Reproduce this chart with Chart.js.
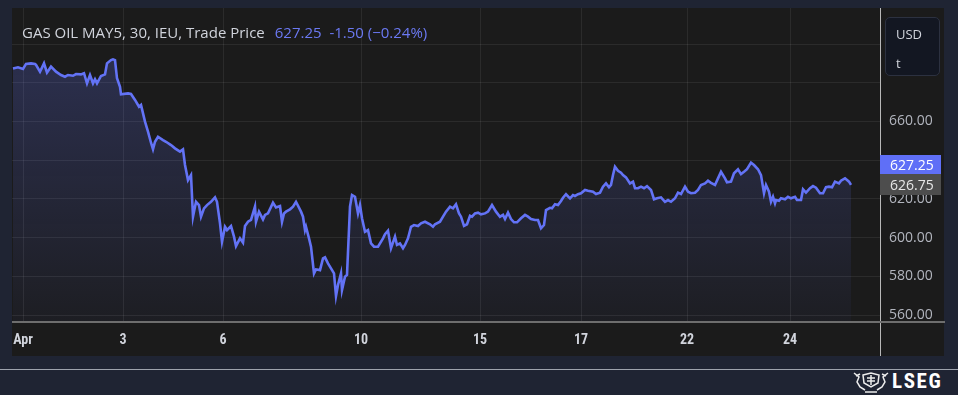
<!DOCTYPE html>
<html>
<head>
<meta charset="utf-8">
<script src="https://cdn.jsdelivr.net/npm/chart.js@4/dist/chart.umd.min.js"></script>
<style>
  html, body { margin:0; padding:0; }
  body { width:958px; height:395px; overflow:hidden; position:relative; background:#1f2433; font-family: 'Open Sans', Roboto, sans-serif; }
  #pane { position:absolute; left:12px; top:8px; width:932px; height:348px; background:#1b1b1b; }
  #c { position:absolute; left:0; top:0; }
  .abs { position:absolute; }
  #title { left:22px; top:22px; font-size:15px; color:#d1d4dc; white-space:nowrap; }
  #title .v { color:#6b79f3; margin-left:10px; }
  #usd { left:885px; top:17px; width:55px; height:59px; border:1px solid #2c3140; border-radius:5px; background:#131722; color:#d1d4dc; font-size:13px; box-sizing:border-box; }
  #usd div { position:absolute; left:10px; }
  .plabel { left:880px; width:61px; font-size:14px; box-sizing:border-box; padding-left:10px; }
  #p1 { top:155px; height:19px; line-height:19px; background:#5f6ff7; color:#ffffff; }
  #p2 { top:174px; height:21px; line-height:21px; background:#4d4d4d; color:#e6e6e6; }
  #vline { left:880px; top:8px; width:1px; height:348px; background:#b8b8b8; }
  #hline { left:12px; top:321px; width:933px; height:2px; background:#6e6e6e; }
  #sep { left:0; top:369px; width:958px; height:1px; background:#9ea3ad; }
  #logo { left:852px; top:371px; height:22px; }
  #lseg { left:892px; top:369px; font-size:21px; font-weight:bold; color:#ffffff; letter-spacing:1.6px; font-family:'Liberation Sans Narrow','Roboto Condensed',Roboto,sans-serif; }
</style>
</head>
<body>
<div id="pane"><canvas id="c" width="932" height="348"></canvas></div>
<div class="abs" id="vline"></div>
<div class="abs" id="hline"></div>
<div class="abs" id="title">GAS OIL MAY5, 30, IEU, Trade Price<span class="v">627.25&nbsp; -1.50 (−0.24%)</span></div>
<div class="abs" id="usd"><div style="top:7px">USD</div><div style="top:36px">t</div></div>
<div class="abs plabel" id="p1">627.25</div>
<div class="abs plabel" id="p2">626.75</div>
<div class="abs" id="sep"></div>
<svg class="abs" id="logo" width="38" height="22" viewBox="0 0 38 22">
  <g fill="none" stroke="#ececec" stroke-width="1.5">
    <path d="M2 2 L7 6 L5 11 L8 16 L13 19"/>
    <path d="M36 2 L31 6 L33 11 L30 16 L25 19"/>
    <path d="M4 5 L8 3 M34 5 L30 3"/>
    <path d="M11 4 L19 2 L27 4 L26 12 L19 16 L12 12 Z"/>
    <path d="M15 7 L23 7 M15 10 L23 10 M19 4 L19 14"/>
    <path d="M13 21 L25 21"/>
  </g>
</svg>
<div class="abs" id="lseg">LSEG</div>

<script>
// 30-minute bar number (from first bar shown) and trade price
const bars = [1,6,11,14,19,23,24,28,32,35,39,44,49,53,56,61,64,69,72,75,78,81,83,85,89,93,95,99,101,103,105,108,109,116,119,123,127,129,133,136,139,141,143,146,151,154,159,163,168,171,173,176,179,181,184,187,189,192,195,199,203,205,208,210,213,215,219,222,224,228,231,233,236,239,243,244,247,251,253,256,261,264,268,270,272,274,278,281,284,289,291,293,294,297,299,302,304,308,311,313,316,319,322,324,326,329,330,333,335,338,340,343,346,348,350,353,356,359,362,366,371,373,376,379,383,385,388,391,393,396,399,402,406,409,413,418,421,423,428,431,434,438,441,444,447,449,452,455,458,460,463,466,469,473,476,480,484,488,491,493,496,499,502,505,509,513,516,519,523,526,529,532,534,538,540,543,546,549,551,554,558,561,563,566,569,573,576,581,584,588,591,594,597,599,601,603,606,609,611,614,618,621,623,626,629,632,635,639,642,645,649,653,656,659,663,666,669,673,676,679,683,686,689,693,696,699,703,706,709,713,715,719,722,726,729,732,735,739,742,746,749,752,754,757,759,761,763,764,767,769,773,776,779,783,785,789,791,794,798,801,804,808,811,814,817,820,823,827,829,833,837,839,842];
const prices = [687.4,688.0,687.1,689.7,690.0,689.7,689.2,685.7,690.0,685.2,688.3,685.7,684.0,683.1,684.0,683.6,684.5,684.3,684.9,679.7,684.0,679.7,681.8,679.7,683.5,684.3,690.0,691.7,692.1,691.7,682.3,677.9,674.0,674.5,674.2,671.1,667.6,668.5,659.9,654.7,649.0,645.6,649.5,652.1,650.4,649.5,647.8,646.1,644.4,645.6,637.5,629.7,632.3,610.8,618.5,616.8,610.8,615.1,616.8,618.5,620.8,618.5,607.4,597.9,605.6,603.9,606.0,600.5,595.6,599.6,597.4,606.0,608.2,609.1,616.0,608.2,613.4,609.4,611.7,612.5,618.0,615.6,616.3,608.2,612.5,613.4,614.6,616.0,618.5,613.4,610.8,603.9,605.6,599.6,595.3,581.5,583.6,583.2,589.3,589.8,586.7,584.1,581.5,569.8,575.5,581.5,572.9,579.8,580.7,616.0,622.0,621.1,612.5,616.8,610.0,603.0,603.9,597.0,595.3,595.3,599.6,601.8,603.6,594.5,600.5,596.2,597.0,594.5,596.2,599.6,605.6,606.5,606.0,607.4,608.2,606.9,605.6,606.9,608.2,610.8,613.4,616.0,615.1,617.2,612.5,610.8,606.1,606.9,611.3,610.8,612.5,612.9,612.0,612.5,613.4,616.8,613.4,610.8,611.7,609.6,612.9,609.6,607.9,607.9,610.0,611.7,610.8,609.6,609.1,609.1,604.8,606.5,614.2,615.4,615.1,617.2,616.8,618.9,620.6,622.4,620.3,622.0,621.5,622.4,622.9,624.6,624.2,623.7,622.5,623.2,626.3,628.0,626.0,627.2,632.3,636.6,634.5,633.5,632.3,631.1,628.0,628.9,625.5,625.5,626.3,625.5,626.6,624.6,619.8,620.3,620.8,618.5,619.4,618.5,620.3,623.2,622.5,626.3,623.7,622.9,623.2,624.6,627.2,628.0,629.4,628.3,627.2,630.6,634.0,630.6,628.6,628.9,633.2,635.3,632.8,634.0,635.3,638.7,637.5,635.3,632.3,622.9,627.2,623.7,618.5,621.1,617.7,619.4,619.0,620.3,619.8,621.1,620.3,621.1,619.4,619.4,624.9,623.2,625.5,626.6,625.8,622.9,622.9,626.0,626.3,626.0,628.9,628.0,629.4,630.6,628.9,627.25];

// x-axis day labels and the bar number where each day starts
const dayTickBars = [11,111,211,349,468,569,675,778];
const dayTickLabels = ['Apr','3','6','10','15','17','22','24'];
// price grid and which price labels are shown
const priceTicks = [560,580,600,620,640,660,680,700];
const priceLabelsShown = [560,580,600,620,660];

const lineColor = '#6373f6';
const gridColor = 'rgba(255,255,255,0.075)';

const ctx = document.getElementById('c').getContext('2d');
new Chart(ctx, {
  type: 'line',
  data: {
    datasets: [{
      data: bars.map((b, i) => ({ x: b, y: prices[i] })),
      borderColor: lineColor,
      borderWidth: 2.6,
      pointRadius: 0,
      tension: 0,
      fill: 'start',
      backgroundColor: (c) => {
        const a = c.chart.chartArea;
        if (!a) return 'rgba(99,115,246,0.15)';
        const g = c.chart.ctx.createLinearGradient(0, a.top, 0, a.bottom);
        g.addColorStop(0, 'rgba(99,115,246,0.27)');
        g.addColorStop(1, 'rgba(99,115,246,0.04)');
        return g;
      }
    }]
  },
  options: {
    responsive: false,
    animation: false,
    events: [],
    layout: { padding: 0 },
    plugins: { legend: { display: false }, tooltip: { enabled: false } },
    scales: {
      x: {
        type: 'linear', min: 0, max: 868,
        afterBuildTicks: (s) => { s.ticks = dayTickBars.map(v => ({ value: v })); },
        afterFit: (s) => { s.height = 34; s.paddingLeft = 0; s.paddingRight = 0; },
        ticks: {
          autoSkip: false, maxRotation: 0, padding: 10,
          color: '#d1d4dc',
          font: { family: "'Liberation Sans Narrow', 'Roboto Condensed', Roboto, sans-serif", size: 14, weight: 'bold' },
          callback: (v) => { const k = dayTickBars.indexOf(v); return k >= 0 ? dayTickLabels[k] : ''; }
        },
        grid: { color: gridColor, drawTicks: false },
        border: { display: false }
      },
      y: {
        position: 'right', min: 556.4, max: 718.6,
        afterBuildTicks: (s) => { s.ticks = priceTicks.map(v => ({ value: v })); },
        afterFit: (s) => { s.width = 64; s.paddingTop = 0; s.paddingBottom = 0; },
        ticks: {
          padding: 9, color: '#b2b5be',
          font: { family: "'Open Sans', Roboto, sans-serif", size: 14 },
          callback: (v) => priceLabelsShown.includes(v) ? v.toFixed(2) : ''
        },
        grid: { color: gridColor, drawTicks: false },
        border: { display: false }
      }
    }
  }
});
</script>
</body>
</html>
